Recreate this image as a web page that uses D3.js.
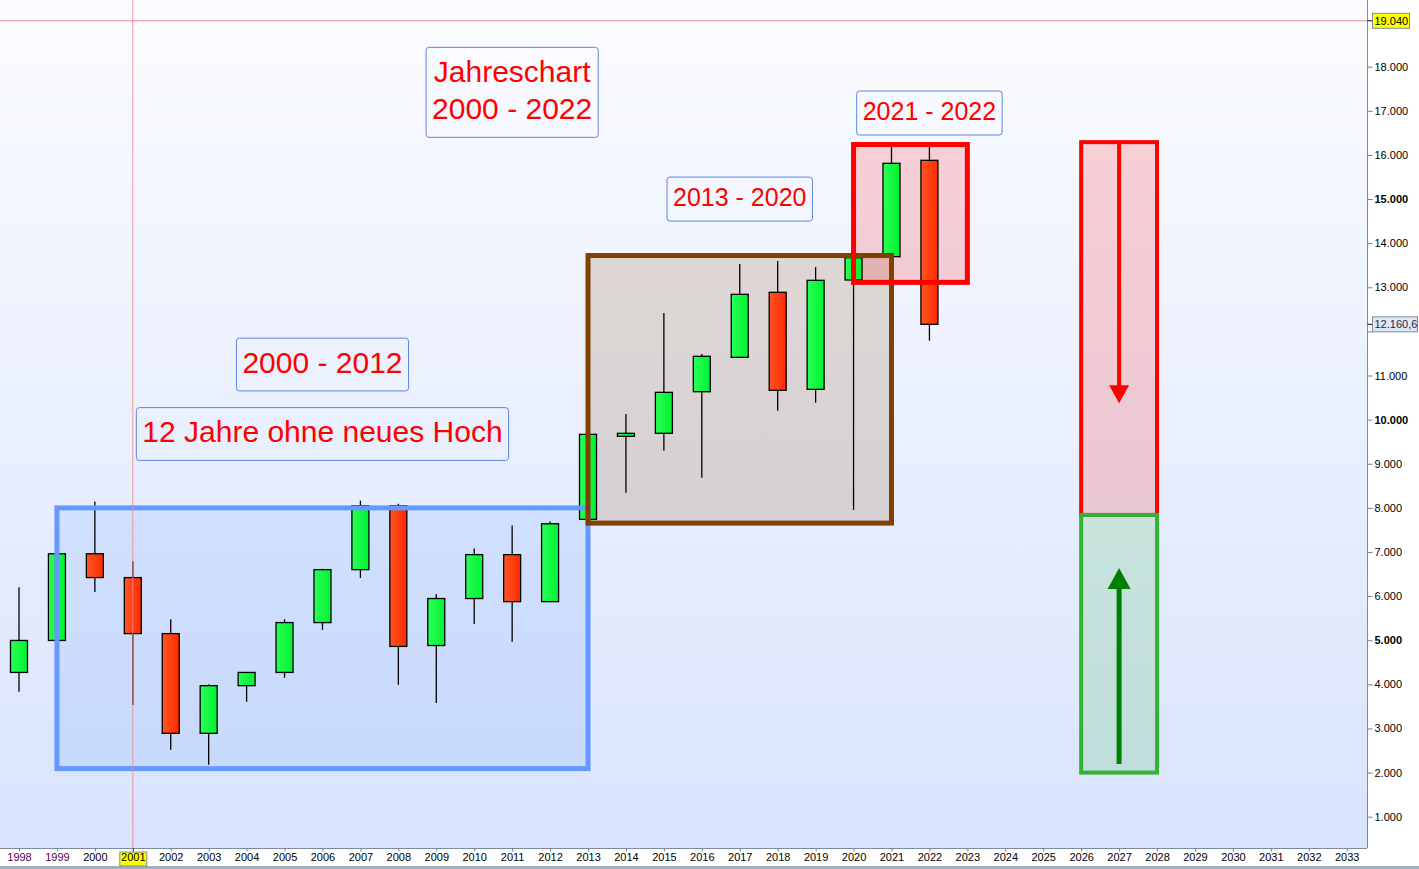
<!DOCTYPE html>
<html>
<head>
<meta charset="utf-8">
<script src="https://cdn.jsdelivr.net/npm/d3@7"></script>
<style>
  body { margin: 0; overflow: hidden; background: #fff; }
  text { font-family: Arial, "Liberation Sans", sans-serif; }
</style>
</head>
<body>
<div id="chart"></div>
<script>

// yearly candles (DAX)
var years  = [1998, 1999, 2000, 2001, 2002, 2003, 2004, 2005, 2006, 2007, 2008, 2009, 2010,
              2011, 2012, 2013, 2014, 2015, 2016, 2017, 2018, 2019, 2020, 2021, 2022];
var opens  = [4270, 4995, 6960, 6420, 5150, 2890, 3970, 4270, 5400, 6600, 8050, 4880, 5945,
              6940, 5875, 7740, 9622, 9690, 10633, 11412, 12886, 10687, 13165, 13693, 15878];
var highs  = [6200, 6960, 8145, 6790, 5475, 4000, 4270, 5475, 6620, 8165, 8095, 6040, 7080,
              7600, 7690, 9667, 10127, 12417, 11488, 13527, 13595, 13459, 13800, 16186, 16186];
var lows   = [3830, 4995, 6095, 3530, 2520, 2180, 3605, 4150, 5235, 6410, 3990, 3580, 5370,
              4965, 5875, 7740, 8344, 9296, 8684, 11412, 10202, 10384, 7952, 13693, 11789];
var closes = [4995, 6960, 6420, 5150, 2890, 3970, 4270, 5400, 6600, 8050, 4860, 5945, 6940,
              5875, 7640, 9667, 9690, 10619, 11435, 12840, 10665, 13158, 13670, 15810, 12160];

// axis ticks
var axisYears  = [1998, 1999, 2000, 2001, 2002, 2003, 2004, 2005, 2006, 2007, 2008, 2009,
                  2010, 2011, 2012, 2013, 2014, 2015, 2016, 2017, 2018, 2019, 2020, 2021,
                  2022, 2023, 2024, 2025, 2026, 2027, 2028, 2029, 2030, 2031, 2032, 2033];
var priceTicks = [1000, 2000, 3000, 4000, 5000, 6000, 7000, 8000, 9000, 10000, 11000, 12000,
                  13000, 14000, 15000, 16000, 17000, 18000];

var crossYear = 2001;
var crossValue = 19040;
var lastValue = 12160.6;

// zones drawn around the candles (years / index points)
var zones = [
  {from: 1999, to: 2013, top: 8000, bottom: 2090, color: "#6699ff", sw: 5},
  {from: 2013, to: 2021, top: 13720, bottom: 7655, color: "#804000", sw: 5},
  {from: 2020, to: 2023, top: 16236, bottom: 13112, color: "#ff0000", sw: 5},
  {from: 2026, to: 2028, top: 16290, bottom: 7840, color: "#ff0000", sw: 4},
  {from: 2026, to: 2028, top: 7840, bottom: 2000, color: "#33b233", sw: 4}
];

var arrows = [
  {year: 2027, from: 16290, to: 10370, color: "#ff0000", sw: 4, head: 20, headLen: 18},
  {year: 2027, from: 2195, to: 6640, color: "#008000", sw: 5, head: 23, headLen: 21}
];

var notes = [
  {lines: ["Jahreschart", "2000 - 2022"], year: 2011, value: 17419, size: 30},
  {lines: ["2000 - 2012"], year: 2006, value: 11249, size: 30},
  {lines: ["12 Jahre ohne neues Hoch"], year: 2006, value: 9674, size: 30},
  {lines: ["2013 - 2020"], year: 2017, value: 15000, size: 25},
  {lines: ["2021 - 2022"], year: 2022, value: 16950, size: 25}
];

var W = 1419, H = 869;
var plotRight = 1367, plotBottom = 848;

var x = d3.scaleLinear().domain([1998, 2033]).range([19, 1346.7]);
var y = d3.scaleLinear().domain([1000, 18000]).range([816.7, 66.7]);

var de = d3.formatLocale({decimal: ",", thousands: ".", grouping: [3], currency: ["", ""]});
var fmtInt = de.format(",.0f");
var fmtOne = de.format(",.1f");

var svg = d3.select("#chart").append("svg")
    .attr("width", W)
    .attr("height", H);

var defs = svg.append("defs");

var bg = defs.append("linearGradient").attr("id", "bg")
    .attr("x1", 0).attr("y1", 0).attr("x2", 0).attr("y2", 1);
bg.append("stop").attr("offset", "0%").attr("stop-color", "#fbfcff");
bg.append("stop").attr("offset", "100%").attr("stop-color", "#d8e3fc");

var gUp = defs.append("linearGradient").attr("id", "up");
gUp.append("stop").attr("offset", "0%").attr("stop-color", "#2aff55");
gUp.append("stop").attr("offset", "100%").attr("stop-color", "#00f232");

var gDown = defs.append("linearGradient").attr("id", "down");
gDown.append("stop").attr("offset", "0%").attr("stop-color", "#ff5522");
gDown.append("stop").attr("offset", "100%").attr("stop-color", "#ff2a00");

// background
svg.append("rect").attr("width", W).attr("height", H).attr("fill", "#fff");
svg.append("rect").attr("width", plotRight).attr("height", plotBottom).attr("fill", "url(#bg)");

// zone fills (under candles)
svg.append("g").selectAll("rect").data(zones).join("rect")
    .attr("x", d => x(d.from))
    .attr("y", d => y(d.top))
    .attr("width", d => x(d.to) - x(d.from))
    .attr("height", d => y(d.bottom) - y(d.top))
    .attr("fill", d => d.color)
    .attr("fill-opacity", 0.16);

// candles
var candles = years.map(function(yr, i) {
    return {year: yr, o: opens[i], h: highs[i], l: lows[i], c: closes[i]};
});
var bw = 17;

var cg = svg.append("g");
cg.selectAll("line").data(candles).join("line")
    .attr("x1", d => x(d.year)).attr("x2", d => x(d.year))
    .attr("y1", d => y(d.h)).attr("y2", d => y(d.l))
    .attr("stroke", "#000").attr("stroke-width", 1.3);
cg.selectAll("rect").data(candles).join("rect")
    .attr("x", d => x(d.year) - bw / 2)
    .attr("y", d => y(Math.max(d.o, d.c)))
    .attr("width", bw)
    .attr("height", d => Math.max(2, Math.abs(y(d.o) - y(d.c))))
    .attr("fill", d => d.c >= d.o ? "url(#up)" : "url(#down)")
    .attr("stroke", "#000").attr("stroke-width", 1.3);

// zone borders (over candles)
svg.append("g").selectAll("rect").data(zones).join("rect")
    .attr("x", d => x(d.from))
    .attr("y", d => y(d.top))
    .attr("width", d => x(d.to) - x(d.from))
    .attr("height", d => y(d.bottom) - y(d.top))
    .attr("fill", "none")
    .attr("stroke", d => d.color)
    .attr("stroke-width", d => d.sw);

// arrows
var ag = svg.append("g");
arrows.forEach(function(a) {
    var dir = a.to > a.from ? -1 : 1;   // pixel direction of travel
    var xt = x(a.year), yt = y(a.to), yf = y(a.from);
    ag.append("line")
        .attr("x1", xt).attr("x2", xt)
        .attr("y1", yf).attr("y2", yt - dir * a.headLen * 0.6)
        .attr("stroke", a.color).attr("stroke-width", a.sw);
    ag.append("path")
        .attr("d", "M" + xt + "," + yt +
                   "L" + (xt - a.head / 2) + "," + (yt - dir * a.headLen) +
                   "L" + (xt + a.head / 2) + "," + (yt - dir * a.headLen) + "Z")
        .attr("fill", a.color);
});

// text notes
var ng = svg.append("g");
notes.forEach(function(n) {
    var cx = x(n.year), cy = y(n.value);
    var lh = n.size * 1.24;
    var g = ng.append("g");
    var box = g.append("rect");
    var t = g.append("text")
        .attr("text-anchor", "middle")
        .attr("fill", "#ff0000")
        .attr("font-size", n.size);
    n.lines.forEach(function(line, i) {
        t.append("tspan")
            .attr("x", cx)
            .attr("y", cy + n.size * 0.28 + (i - (n.lines.length - 1) / 2) * lh)
            .text(line);
    });
    var bb = t.node().getBBox();
    var padX = 6;
    var hgt = n.size * 1.76 + (n.lines.length - 1) * lh;
    box.attr("x", bb.x - padX).attr("width", bb.width + 2 * padX)
        .attr("y", cy - hgt / 2).attr("height", hgt)
        .attr("rx", 3).attr("fill", "none")
        .attr("stroke", "#5b87e2").attr("stroke-width", 1);
});

// crosshair
svg.append("line")
    .attr("x1", 0).attr("x2", plotRight)
    .attr("y1", y(crossValue)).attr("y2", y(crossValue))
    .attr("stroke", "#f08a8a").attr("stroke-width", 1);
svg.append("line")
    .attr("x1", x(crossYear)).attr("x2", x(crossYear))
    .attr("y1", 0).attr("y2", plotBottom)
    .attr("stroke", "#f08a8a").attr("stroke-opacity", 0.85).attr("stroke-width", 1);

// plot frame
svg.append("line").attr("x1", 0).attr("x2", plotRight)
    .attr("y1", plotBottom + 0.5).attr("y2", plotBottom + 0.5)
    .attr("stroke", "#7b8c9c");
svg.append("line").attr("x1", plotRight + 0.5).attr("x2", plotRight + 0.5)
    .attr("y1", 0).attr("y2", plotBottom)
    .attr("stroke", "#7b8c9c");
svg.append("rect").attr("x", 0).attr("y", 866).attr("width", W).attr("height", 3)
    .attr("fill", "#9db1c1");

// x axis
var xAxis = svg.append("g")
    .attr("transform", "translate(0," + (plotBottom + 0.5) + ")")
    .call(d3.axisBottom(x).tickValues(axisYears).tickSize(3).tickPadding(2).tickFormat(d3.format("d")));
xAxis.select(".domain").remove();
xAxis.selectAll(".tick line").attr("stroke", "#6f8090");
xAxis.selectAll(".tick text")
    .attr("font-size", 11)
    .attr("font-family", "Arial, 'Liberation Sans', sans-serif")
    .attr("fill", d => d < 2000 ? "#500050" : "#000");
xAxis.selectAll(".tick").filter(d => d === crossYear).each(function() {
    var tk = d3.select(this);
    tk.insert("rect", "text")
        .attr("x", -13.5).attr("y", 3.5).attr("width", 27).attr("height", 14)
        .attr("fill", "#ffff00").attr("stroke", "#7b8c9c");
    tk.select("line").attr("stroke", "#000");
});

// y axis
var yAxis = svg.append("g")
    .attr("transform", "translate(" + (plotRight + 0.5) + ",0)")
    .call(d3.axisRight(y).tickValues(priceTicks).tickSize(5).tickPadding(2).tickFormat(fmtInt));
yAxis.select(".domain").remove();
yAxis.selectAll(".tick line").attr("stroke", "#6f8090");
yAxis.selectAll(".tick text")
    .attr("font-size", 11)
    .attr("font-family", "Arial, 'Liberation Sans', sans-serif")
    .attr("fill", "#000")
    .attr("font-weight", d => d % 5000 === 0 ? "bold" : "normal");

// the last-price flag hides the tick label it sits on, as in the source chart
yAxis.selectAll(".tick").filter(d => Math.abs(y(d) - y(lastValue)) < 10)
    .select("text").remove();

// value flags on the price axis
function flag(value, label, fill, color, w) {
    var g = svg.append("g").attr("transform", "translate(" + (plotRight + 0.5) + "," + y(value) + ")");
    g.append("line").attr("x1", 0).attr("x2", 5).attr("stroke", "#000");
    g.append("rect").attr("x", 5).attr("y", -7.5).attr("width", w).attr("height", 15)
        .attr("fill", fill).attr("stroke", "#7b8c9c");
    g.append("text").attr("x", 7).attr("y", 4)
        .attr("font-size", 11).attr("fill", color).text(label);
}
flag(crossValue, fmtInt(crossValue), "#ffff00", "#000", 37);
flag(lastValue, fmtOne(lastValue), "#e1e7f1", "#1c2a44", 45);

</script>
</body>
</html>
